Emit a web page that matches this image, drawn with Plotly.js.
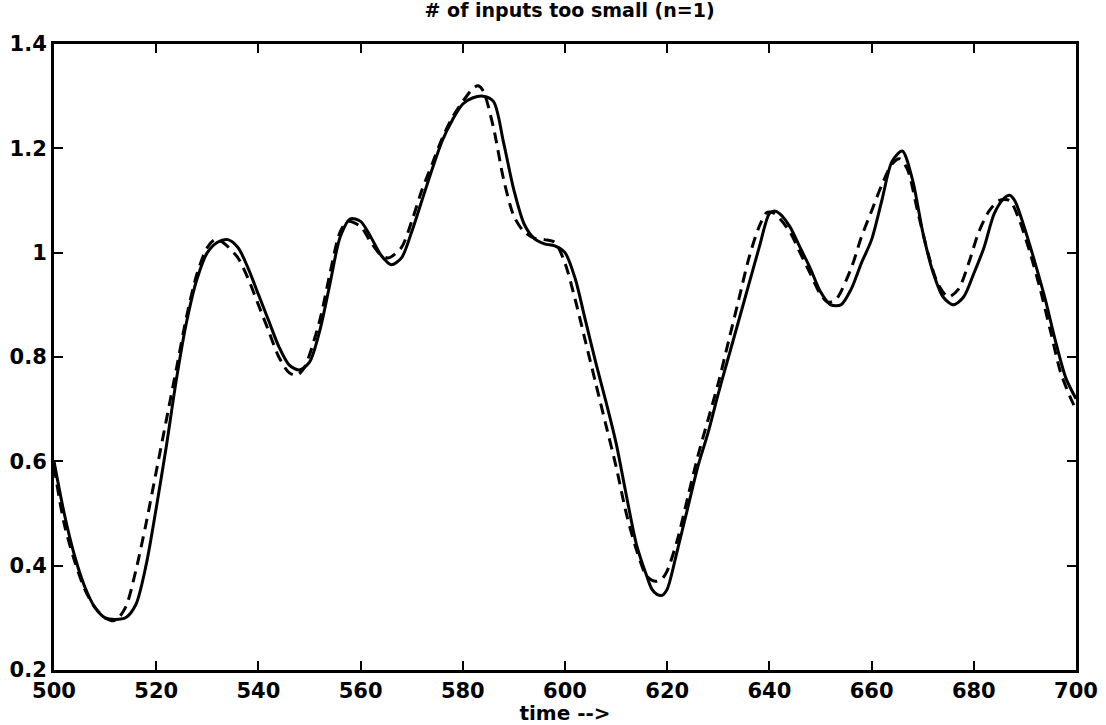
<!DOCTYPE html>
<html>
<head>
<meta charset="utf-8">
<script src="https://cdn.plot.ly/plotly-3.0.1.min.js"></script>
<style>
  html, body { margin: 0; padding: 0; background: #fff; }
  #plot { width: 1106px; height: 725px; }
</style>
</head>
<body>
<div id="plot"></div>
<script>
// Actual output (solid) and model output (dashed) over time 500..700
const timeActual = [500,502,504,506,508,510,512,514,516,518,520,522,524,526,528,530,532,534,536,538,540,542,544,546,548,550,552,554,556,558,560,562,564,566,568,570,572,574,576,578,580,582,584,586,588,590,592,594,596,598,600,602,604,606,608,610,612,614,616,617,618,619,620,622,624,626,628,630,632,634,636,638,640,641,642,644,646,648,650,652,654,656,658,660,662,664,666,668,670,672,674,676,678,680,682,684,686,687,688,690,692,694,696,698,700];
const valueActual = [0.60,0.50,0.42,0.36,0.32,0.30,0.297,0.30,0.325,0.40,0.51,0.63,0.76,0.87,0.95,1.00,1.02,1.025,1.01,0.97,0.92,0.87,0.82,0.785,0.775,0.79,0.85,0.94,1.03,1.065,1.06,1.03,0.995,0.977,0.99,1.04,1.10,1.16,1.215,1.255,1.285,1.297,1.30,1.29,1.21,1.12,1.055,1.027,1.017,1.013,1.00,0.95,0.87,0.79,0.715,0.635,0.535,0.44,0.38,0.355,0.345,0.343,0.355,0.43,0.51,0.59,0.655,0.73,0.80,0.87,0.94,1.01,1.075,1.08,1.075,1.05,1.01,0.97,0.925,0.90,0.90,0.93,0.98,1.025,1.10,1.175,1.195,1.14,1.04,0.963,0.915,0.90,0.915,0.96,1.01,1.075,1.105,1.11,1.10,1.045,0.98,0.91,0.83,0.76,0.72];

const timeModel = [500,502,504,506,508,510,512,514,516,518,520,522,524,526,528,530,531.5,533,536,538,540,542,544,546,547.5,549,552,554,556,557.5,560,562,564,565.5,568,570,572,574,576,578,580,582,583,584,586,588,590,592,594,596,598,600,602,604,606,608,610,612,614,616,617.8,619,620,622,624,626,628,630,632,634,636,638,639.5,641,644,646,648,650,651.5,653,656,658,660,662,664,665.5,667,669,671,673,675,677,679,681,683,685,687,689,691,693,695,697,699,700];
const valueModel = [0.59,0.48,0.41,0.355,0.32,0.30,0.295,0.32,0.39,0.48,0.58,0.68,0.78,0.88,0.96,1.01,1.025,1.02,0.99,0.95,0.90,0.85,0.80,0.77,0.765,0.78,0.87,0.96,1.04,1.06,1.05,1.02,0.995,0.99,1.01,1.06,1.12,1.17,1.22,1.26,1.29,1.315,1.32,1.31,1.24,1.14,1.07,1.04,1.028,1.025,1.02,0.98,0.91,0.83,0.75,0.67,0.59,0.50,0.43,0.38,0.37,0.375,0.39,0.45,0.53,0.61,0.68,0.75,0.83,0.91,0.99,1.05,1.077,1.075,1.04,1.00,0.96,0.92,0.905,0.91,0.97,1.03,1.08,1.13,1.17,1.18,1.16,1.08,1.00,0.94,0.915,0.93,0.98,1.04,1.08,1.10,1.10,1.06,1.00,0.93,0.85,0.77,0.72,0.70];

const xTicks = [500,520,540,560,580,600,620,640,660,680,700];
const yTicks = [0.2,0.4,0.6,0.8,1.0,1.2,1.4];

const family = 'DejaVu Sans, Verdana, sans-serif';

const traces = [
  {
    x: timeActual, y: valueActual, type: 'scatter', mode: 'lines',
    line: {color: '#000', width: 3, shape: 'spline', smoothing: 0.8},
    hoverinfo: 'skip'
  },
  {
    x: timeModel, y: valueModel, type: 'scatter', mode: 'lines',
    line: {color: '#000', width: 3, shape: 'spline', smoothing: 0.8, dash: '11px,7px'},
    hoverinfo: 'skip'
  }
];

const axisCommon = {
  showgrid: false, zeroline: false,
  showline: true, linecolor: '#000', linewidth: 3, mirror: 'ticks',
  ticks: 'inside', ticklen: 9, tickwidth: 2, tickcolor: '#000',
  tickfont: {family: family, size: 21, color: '#000', weight: 'bold'}
};

const layout = {
  width: 1106, height: 725,
  paper_bgcolor: '#fff', plot_bgcolor: '#fff',
  showlegend: false,
  margin: {l: 54, r: 30, t: 44, b: 55},
  title: {
    text: '# of inputs too small (n=1)',
    font: {family: family, size: 19, color: '#000', weight: 'bold'},
    x: 0.515, xanchor: 'center', y: 0.995, yanchor: 'top'
  },
  xaxis: Object.assign({}, axisCommon, {
    range: [500, 700], tickvals: xTicks, ticktext: xTicks.map(String),
    title: {text: 'time -->', font: {family: family, size: 20, color: '#000', weight: 'bold'}, standoff: 0}
  }),
  yaxis: Object.assign({}, axisCommon, {
    range: [0.2, 1.4], tickvals: yTicks, ticktext: yTicks.map(v => String(v)),
    ticklabelstandoff: 0
  })
};

Plotly.newPlot('plot', traces, layout, {staticPlot: true, displayModeBar: false});
</script>
</body>
</html>
